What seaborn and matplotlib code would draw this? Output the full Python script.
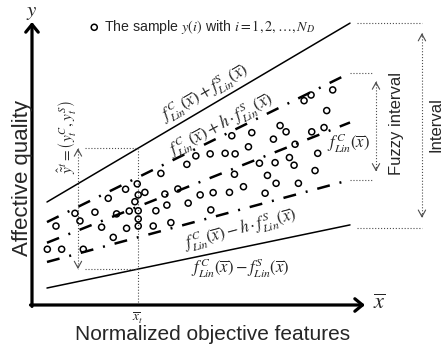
import numpy as np
import seaborn as sns
import matplotlib.pyplot as plt

sns.set_theme(style="white")
plt.rcParams['font.family'] = ['Liberation Sans', 'DejaVu Sans']
plt.rcParams['mathtext.fontset'] = 'stix'

# normalized units: both axes run 0..10
sample_x = [3.87, 4.65, 2.81, 3.16, 2.29, 3.39, 3.19, 3.09, 3.99, 4.38,
            4.69, 1.29, 1.89, 2.54, 2.92, 3.19, 3.72, 4.05, 0.72, 1.44,
            2.09, 2.84, 3.19, 3.19, 3.64, 4.17, 2.44, 0.46, 0.89, 1.54,
            8.38, 8.17, 9.03, 8.85, 7.45, 7.63, 8.40, 8.77, 6.60, 6.00,
            7.25, 7.90, 6.50, 8.58, 4.92, 5.35, 5.80, 6.10, 6.83, 7.30,
            7.73, 7.87, 8.50, 6.08, 7.07, 6.35, 7.33, 8.00, 5.05, 5.44,
            5.93, 7.00, 5.37]
sample_y = [4.65, 4.97, 4.09, 4.28, 3.77, 3.98, 3.89, 3.65, 3.92, 4.10,
            3.60, 3.24, 3.28, 3.22, 3.32, 3.33, 3.33, 3.53, 2.79, 2.97,
            2.75, 2.71, 3.04, 2.79, 2.79, 2.91, 2.39, 1.97, 1.97, 1.97,
            7.42, 7.22, 7.60, 6.87, 6.34, 6.12, 6.12, 6.27, 6.09, 5.98,
            5.86, 5.68, 5.59, 5.36, 5.27, 5.34, 5.36, 5.34, 5.01, 5.03,
            5.21, 4.94, 4.75, 4.62, 4.58, 4.18, 4.30, 4.30, 3.89, 3.97,
            3.98, 3.95, 3.36]

# band lines, y at both ends of the fitted range
line_x = [0.45, 9.55]
upper_y = [3.64, 9.96]      # f_C + f_S
fuzzy_up_y = [2.93, 8.20]   # f_C + h f_S
center_y = [2.20, 6.45]     # f_C
fuzzy_lo_y = [1.52, 4.42]   # f_C - h f_S
lower_y = [0.60, 2.83]      # f_C - f_S

x_t = 3.18

fig = plt.figure(figsize=(4.44, 3.63), dpi=100)
ax = fig.add_axes([32/444, 58/363, 333/444, 283/363])
ax.set_xlim(0, 10)
ax.set_ylim(0, 10)
sns.despine(ax=ax, left=True, bottom=True)
ax.set_yticks([])

# axes with arrow heads
head = dict(arrowstyle='->,head_length=0.55,head_width=0.45', lw=2.3,
            color='black', shrinkA=0, shrinkB=0, mutation_scale=10)
ax.annotate('', xy=(0, 10), xytext=(0, -0.05), arrowprops=head, annotation_clip=False)
ax.annotate('', xy=(10, 0), xytext=(-0.045, 0), arrowprops=head, annotation_clip=False)
ax.text(0, 10.35, r"$y$", fontsize=15, ha='center', va='center')
ax.text(10.42, 0.05, r"$\overline{x}$", fontsize=16, ha='center', va='center')

# bands
dashdot = (0, (5.2, 4, 0.8, 4))
ax.plot(line_x, upper_y, color='black', lw=1.1)
ax.plot(line_x, lower_y, color='black', lw=1.1)
for ys in (fuzzy_up_y, center_y, fuzzy_lo_y):
    ax.plot(line_x, ys, color='black', lw=1.8, ls=dashdot)

sns.scatterplot(x=sample_x, y=sample_y, s=19, facecolor='none', edgecolor='black',
                linewidth=1.1, ax=ax, zorder=3,
                label=r"The sample $y\left(i\right)$ with $i=1,2,\ldots,N_D$")
ax.legend(loc='upper left', bbox_to_anchor=(90/444, 1 - 18/363), bbox_transform=fig.transFigure,
          frameon=False, fontsize=10.2, handlelength=0.6, handletextpad=0.4,
          borderpad=0, borderaxespad=0)

# guides at x_t
guide = dict(color='0.3', lw=0.8, ls=':')
def double_arrow(x, y0, y1):
    ax.plot([x, x], [y0, y1], **guide)
    for a, b in ((y0, y1), (y1, y0)):
        ax.annotate('', xy=(x, b), xytext=(x, b + 0.12 * np.sign(a - b)),
                    arrowprops=dict(arrowstyle='->,head_length=0.4,head_width=0.22', lw=0.8,
                                    color='0.3', shrinkA=0, shrinkB=0),
                    annotation_clip=False)

y_up_t = np.interp(x_t, line_x, upper_y)
y_lo_t = np.interp(x_t, line_x, lower_y)
ax.plot([x_t, x_t], [0, y_up_t], **guide)
ax.plot([1.59, x_t], [y_up_t] * 2, **guide)
ax.plot([1.59, x_t], [y_lo_t] * 2, **guide)
double_arrow(1.38, y_up_t, y_lo_t)

ax.plot([9.55, 10.21], [fuzzy_up_y[1]] * 2, **guide)
ax.plot([9.55, 10.21], [fuzzy_lo_y[1]] * 2, **guide)
double_arrow(10.33, fuzzy_up_y[1] - 0.3, fuzzy_lo_y[1] + 0.3)
ax.plot([9.76, 11.71], [upper_y[1]] * 2, **guide)
ax.plot([9.76, 11.71], [lower_y[1] - 0.1] * 2, **guide)
double_arrow(11.71, upper_y[1] - 0.35, lower_y[1] + 0.25)

for ln in ax.lines:
    ln.set_clip_on(False)

ax.set_xticks([x_t], [r"$\overline{x}_t$"])
ax.tick_params(axis='x', length=0, pad=4, labelsize=9.5)

# labels
fC = r"f_{Lin}^{C}\left(\overline{x}\right)"
fS = r"f_{Lin}^{S}\left(\overline{x}\right)"
lab = dict(fontsize=12, ha='center', va='center', rotation_mode='anchor')
ax.text(5.20, 7.50, "$" + fC + "+" + fS + "$", rotation=30, **lab)
ax.text(5.68, 6.36, "$" + fC + r"+h\cdot " + fS + "$", rotation=28, **lab)
ax.text(9.50, 5.72, "$" + fC + "$", **lab)
ax.text(6.25, 2.66, "$" + fC + r"-h\cdot " + fS + "$", rotation=15, **lab)
ax.text(6.25, 1.31, "$" + fC + "-" + fS + "$", **lab)
ax.text(1.05, 5.94, r"$\hat{\tilde{y}}^{t}=\left(y_{t}^{C},y_{t}^{S}\right)$", rotation=90,
        fontsize=11, ha='center', va='center')

ax.text(10.96, 6.40, "Fuzzy interval", rotation=90, fontsize=12, ha='center', va='center')
ax.text(12.13, 6.36, "Interval", rotation=90, fontsize=12, ha='center', va='center')
ax.text(-0.28, 4.5, "Affective quality", rotation=90, fontsize=16, ha='center', va='center')
ax.text(5.41, -1.06, "Normalized objective features", fontsize=15, ha='center', va='center')

fig.savefig("out.png", dpi=100)
